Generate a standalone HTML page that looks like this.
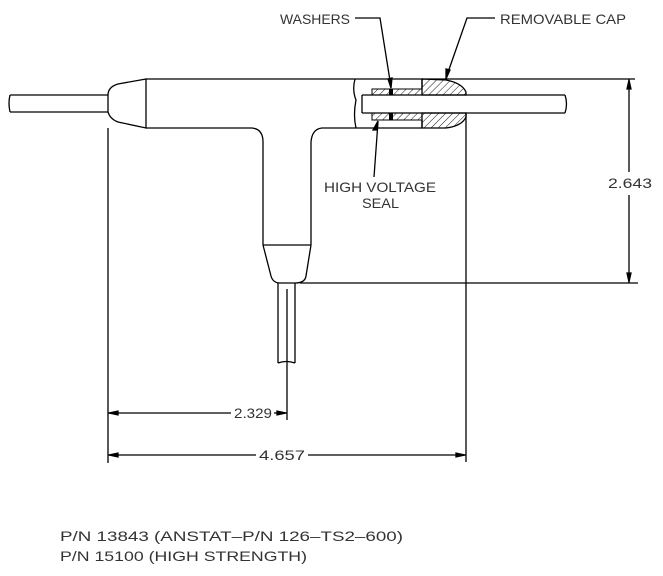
<!DOCTYPE html>
<html><head><style>html,body{margin:0;padding:0;background:#fff}svg{display:block}</style></head>
<body>
<svg width="663" height="576" viewBox="0 0 663 576" xmlns="http://www.w3.org/2000/svg" font-family="Liberation Sans, sans-serif" fill="none" stroke="#000" stroke-width="1.3">
<defs>
<pattern id="h" width="5" height="5" patternUnits="userSpaceOnUse" patternTransform="rotate(45)">
<line x1="0" y1="0" x2="0" y2="5" stroke="#000" stroke-width="0.9"/>
</pattern>
</defs>
<path d="M10 95 L108 95 M10 112 L108 112 M10 95 Q8 103 10 112"/>
<path d="M146 79 L118 84 Q108 87 108 95 L108 112 Q110 119 118 122 L146 128 Z"/>
<path d="M146 79 L355 79 M146 128 L252 128 Q263 129 263 142 L263 245 M311 245 L311 142 Q312 129 322 128 L355 128"/>
<path d="M355 79 Q352 90 356 100 Q353 115 356 128"/>
<path d="M263 245 L311 245 M263 245 L271 276 Q273 283 280 283 L295 283 Q305 283 306 276 L311 245"/>
<path d="M278 283 L278 363 M295 283 L295 363 M278 363 Q286 360 295 363 M287 289 L287 420"/>
<path d="M355 79 L635 79 M355 128 L422 128 M422 128 L422 120 M422 89 L422 79"/>
<path d="M362 95 L565 95 M362 113 L565 113 M362 95 L362 113 M565 95 Q568 104 565 113"/>
<rect x="372" y="89" width="50" height="6" fill="url(#h)" stroke-width="1"/>
<rect x="372" y="113" width="50" height="7" fill="url(#h)" stroke-width="1"/>
<rect x="389" y="89" width="4" height="6" fill="#000" stroke="none"/>
<rect x="389" y="113" width="4" height="7" fill="#000" stroke="none"/>
<path d="M422 79 L446 80 Q462 83 466 92 L466 95 L422 95 Z" fill="url(#h)"/>
<path d="M422 113 L466 113 L466 117 Q462 126 446 128 L422 128 Z" fill="url(#h)"/>
<path d="M466 113 L466 462 M300 283 L638 283 M629 79 L629 172 M629 195 L629 283"/>
<path d="M629 80 l-2 9 l4 0 z M629 282 l-2 -9 l4 0 z" fill="#000"/>
<path d="M108 128 L108 463 M108 413 L231 413 M274 413 L287 413 M108 455 L256 455 M308 455 L466 455"/>
<path d="M109 413 l9 -2 l0 4 z M286 413 l-9 -2 l0 4 z M109 455 l9 -2 l0 4 z M465 455 l-9 -2 l0 4 z" fill="#000"/>
<path d="M355 18 L380 18 L391 87 M495 18 L467 18 L446 78 M374 177 L378 122"/>
<path d="M391 88 l-3 -9 l4 -1 z M446 79 l0 -10 l4 1 z M378 121 l-1 9 l-4 0 z" fill="#000"/>
<g fill="#333" stroke="none" font-size="14">
<text x="280" y="24" textLength="70" lengthAdjust="spacingAndGlyphs">WASHERS</text>
<text x="500" y="24" textLength="126" lengthAdjust="spacingAndGlyphs">REMOVABLE CAP</text>
<text x="324" y="192" textLength="112" lengthAdjust="spacingAndGlyphs">HIGH VOLTAGE</text>
<text x="362" y="208" textLength="37" lengthAdjust="spacingAndGlyphs">SEAL</text>
<text x="608" y="188" textLength="44" lengthAdjust="spacingAndGlyphs">2.643</text>
<text x="234" y="418" textLength="38" lengthAdjust="spacingAndGlyphs">2.329</text>
<text x="259" y="460" textLength="46" lengthAdjust="spacingAndGlyphs">4.657</text>
<text x="60" y="541" textLength="343" lengthAdjust="spacingAndGlyphs">P/N  13843  (ANSTAT–P/N  126–TS2–600)</text>
<text x="60" y="561" textLength="247" lengthAdjust="spacingAndGlyphs">P/N  15100  (HIGH  STRENGTH)</text>
</g>
</svg>
</body></html>
